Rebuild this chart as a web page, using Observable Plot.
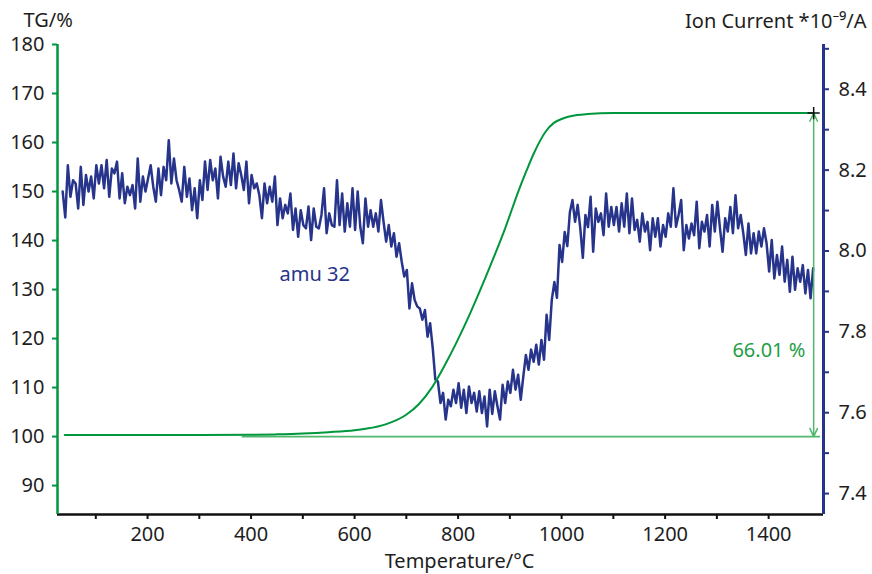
<!DOCTYPE html>
<html><head><meta charset="utf-8">
<script src="https://cdn.jsdelivr.net/npm/d3@7"></script>
<script src="https://cdn.jsdelivr.net/npm/@observablehq/plot@0.6"></script>
<style>body{margin:0;background:#fff;}</style>
</head><body><div id="chart"></div>
<script>
// ---- TG curve (Temperature °C -> TG %)
const tgTemps  = [40, 200, 300, 400, 450, 500, 550, 600, 621, 660, 699, 724, 750, 776, 814, 853, 892, 917, 932, 946, 969, 985, 1000, 1011, 1030, 1050, 1100, 1200, 1300, 1400, 1487];
const tgValues = [100.3, 100.3, 100.3, 100.35, 100.45, 100.62, 100.9, 101.3, 101.6, 102.5, 104.4, 106.6, 110.1, 114.9, 123.0, 132.5, 142.8, 150.2, 154.2, 157.7, 162.2, 164.0, 164.8, 165.2, 165.6, 165.8, 166.0, 166.0, 166.0, 166.0, 166.0];

// ---- Ion current amu 32 (*10^-9 A), sampled every 5 °C from 36 °C
const ionStart = 36, ionStep = 5;
const ionValues = [
 8.147, 8.083, 8.212, 8.134, 8.175, 8.167, 8.105, 8.208, 8.114, 8.188,
 8.147, 8.184, 8.130, 8.212, 8.167, 8.212, 8.155, 8.225, 8.134, 8.204,
 8.192, 8.221, 8.130, 8.192, 8.118, 8.159, 8.138, 8.163, 8.105, 8.229,
 8.122, 8.184, 8.147, 8.179, 8.212, 8.159, 8.122, 8.204, 8.138, 8.208,
 8.175, 8.274, 8.167, 8.229, 8.175, 8.151, 8.122, 8.208, 8.134, 8.179,
 8.101, 8.155, 8.081, 8.175, 8.126, 8.221, 8.151, 8.225, 8.175,
 8.204, 8.130, 8.233, 8.184, 8.159, 8.221, 8.163, 8.241, 8.155, 8.217,
 8.188, 8.151, 8.221, 8.118, 8.188, 8.155, 8.167, 8.138, 8.081, 8.167,
 8.118, 8.159, 8.122, 8.184, 8.064, 8.130, 8.081, 8.114, 8.093, 8.142,
 8.052, 8.105, 8.035, 8.101, 8.064, 8.056, 8.110, 8.027, 8.105, 8.060,
 8.056, 8.089, 8.155, 8.044, 8.093, 8.064, 8.060, 8.175, 8.064, 8.142,
 8.048, 8.118, 8.060, 8.155, 8.052, 8.147, 8.060, 8.019, 8.130, 8.060,
 8.101, 8.060, 8.093, 8.048, 8.126, 8.072, 8.023, 8.064, 8.011, 8.044,
 7.986, 8.019, 7.974, 7.937, 7.953, 7.858, 7.920, 7.879, 7.863, 7.858,
 7.830, 7.854, 7.788, 7.821, 7.760, 7.682, 7.677, 7.624, 7.649, 7.583,
 7.632, 7.616, 7.657, 7.624, 7.673, 7.612, 7.657, 7.599, 7.665, 7.624,
 7.649, 7.603, 7.653, 7.599, 7.640, 7.566, 7.657, 7.597, 7.653, 7.616,
 7.583, 7.669, 7.624, 7.677, 7.649, 7.706, 7.657, 7.694, 7.632, 7.690,
 7.743, 7.706, 7.756, 7.726, 7.768, 7.719, 7.780, 7.731, 7.842, 7.780,
 7.879, 7.923, 7.884, 8.015, 7.973, 8.047, 8.012, 8.096, 8.126, 8.072,
 8.114, 8.057, 7.983, 8.089, 8.059,
 8.134, 7.998, 8.105, 8.072, 8.093, 8.039, 8.142, 8.060, 8.109, 8.064,
 8.109, 8.048, 8.118, 8.060, 8.142, 8.044, 8.130, 8.052, 8.077, 8.023,
 8.093, 8.048, 8.072, 8.002, 8.081, 8.035, 8.081, 8.011, 8.064, 8.035,
 8.093, 8.060, 8.155, 8.060, 8.089,
 8.126, 8.002, 8.064, 8.031, 8.068, 8.039, 8.122, 8.007, 8.072, 8.048,
 8.089, 8.011, 8.114, 8.048, 8.122, 8.056, 7.998, 8.081, 8.048, 8.109,
 8.044, 8.138, 8.056, 8.089, 8.044, 7.990, 8.068, 7.994, 8.044, 7.994,
 8.048, 8.011, 8.056, 8.019, 7.949, 8.027, 7.932, 7.990, 7.941, 8.011,
 7.924, 7.978, 7.899, 7.986, 7.904, 7.957, 7.924, 7.965, 7.895, 7.953,
 7.883, 7.957
];
const ionTemps = ionValues.map((_, i) => ionStart + i * ionStep);

// ---- axes
const xDomain = [26, 1506];
const tgDomain = [84.1, 180];
const xTicks = [100, 200, 300, 400, 500, 600, 700, 800, 900, 1000, 1100, 1200, 1300, 1400];
const xLabelTicks = [200, 400, 600, 800, 1000, 1200, 1400];
const tgTicks = [90, 100, 110, 120, 130, 140, 150, 160, 170, 180];
const ionTicks = [7.4, 7.5, 7.6, 7.7, 7.8, 7.9, 8.0, 8.1, 8.2, 8.3, 8.4, 8.5];
const ionLabelTicks = [7.4, 7.6, 7.8, 8.0, 8.2, 8.4];

// ---- annotations
const baseline = {value: 100, from: 383, to: 1500};
const stepTemp = 1487, stepTop = 166.0, stepBottom = 100;
const stepLabel = "66.01 %";
const amuLabel = {text: "amu 32", t: 455, tg: 133.1};
const stepLabelPos = {t: 1471, tg: 117.6};

const GREEN = "#00973c", GREEN_LIGHT = "#4fb86c", BLUE = "#27348b", TEXT = "#1e1e1e";
const ionToTG = v => 88.37 + (v - 7.4) * 82.5;

const ionData = ionTemps.map((t, i) => ({t, v: ionValues[i]}));
const tgData = tgTemps.map((t, i) => ({t, v: tgValues[i]}));
const midStep = (stepTop + stepBottom) / 2;

const chart = Plot.plot({
  width: 872, height: 574,
  marginLeft: 57, marginRight: 49, marginTop: 44, marginBottom: 60,
  style: {fontFamily: "'Noto Sans', sans-serif", fontSize: "20px", color: TEXT, background: "#fff"},
  x: {domain: xDomain},
  y: {domain: tgDomain},
  marks: [
    Plot.axisX(xTicks, {tickSize: 5, tickPadding: 7, stroke: "#111", strokeWidth: 2, fill: TEXT,
      tickFormat: d => xLabelTicks.includes(d) ? String(d) : "", label: null}),
    Plot.axisY(tgTicks, {anchor: "left", tickSize: 5, tickPadding: 8, stroke: GREEN, strokeWidth: 2, fill: TEXT, label: null}),
    Plot.axisY(ionTicks, {anchor: "right", y: ionToTG, tickSize: 5, tickPadding: 10, stroke: BLUE, strokeWidth: 2, fill: TEXT,
      tickFormat: v => ionLabelTicks.includes(v) ? v.toFixed(1) : "", label: null}),
    Plot.ruleY([baseline.value], {x1: baseline.from, x2: baseline.to, stroke: GREEN_LIGHT, strokeWidth: 1.6}),
    Plot.line(ionData, {x: "t", y: d => ionToTG(d.v), stroke: BLUE, strokeWidth: 2.5, strokeLinejoin: "round"}),
    Plot.line(tgData, {x: "t", y: "v", curve: "monotone-x", stroke: GREEN, strokeWidth: 2}),
    Plot.arrow([{y1: midStep, y2: stepTop}, {y1: midStep, y2: stepBottom}],
      {x1: () => stepTemp, x2: () => stepTemp, y1: "y1", y2: "y2", stroke: GREEN_LIGHT, strokeWidth: 1.5, headLength: 9, headAngle: 50}),
    Plot.dot([{t: stepTemp, v: stepTop}], {x: "t", y: "v", symbol: "plus", r: 4, stroke: "#111", strokeWidth: 1.5}),
    Plot.ruleY([tgDomain[0]], {stroke: "#111", strokeWidth: 2.5}),
    Plot.ruleX([xDomain[0]], {stroke: GREEN, strokeWidth: 2.5}),
    Plot.ruleX([xDomain[1]], {stroke: BLUE, strokeWidth: 3}),
    Plot.text([amuLabel], {x: "t", y: "tg", text: "text", textAnchor: "start", fill: BLUE, fontSize: 20}),
    Plot.text([stepLabel], {x: () => stepLabelPos.t, y: () => stepLabelPos.tg, text: d => d, textAnchor: "end", fill: "#1f9e47", fontSize: 20}),
    Plot.text(["TG/%"], {text: d => d, frameAnchor: "top-left", dx: -34, dy: -18, lineAnchor: "bottom", textAnchor: "start", fill: TEXT, fontSize: 20}),
    Plot.text(["Ion Current *10⁻⁹/A"], {text: d => d, frameAnchor: "top-right", dx: 43, dy: -17, lineAnchor: "bottom", textAnchor: "end", fill: TEXT, fontSize: 20}),
    Plot.text(["Temperature/°C"], {text: d => d, frameAnchor: "bottom", dx: 19, dy: 53, lineAnchor: "bottom", fill: TEXT, fontSize: 20})
  ]
});
document.getElementById("chart").appendChild(chart);
</script>
</body></html>
